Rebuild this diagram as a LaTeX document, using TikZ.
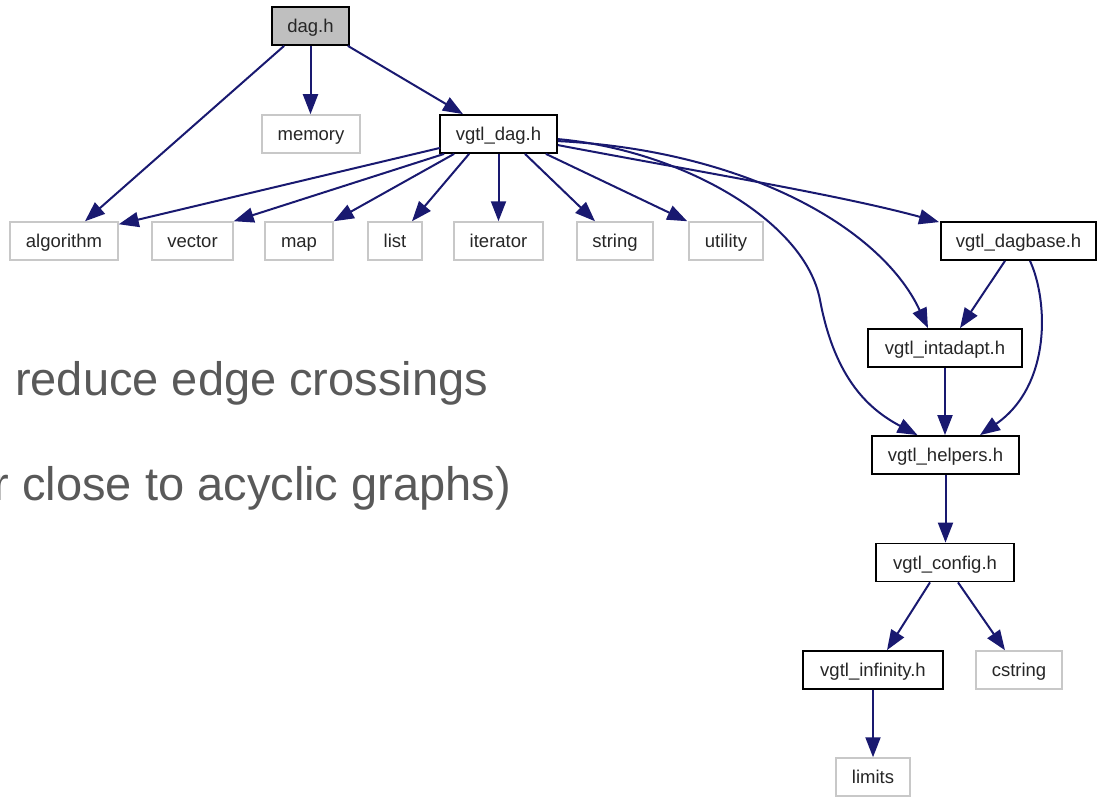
\documentclass[tikz,border=0pt]{standalone}
\usepackage{fontspec}
\setmainfont{Liberation Sans}
\usetikzlibrary{arrows.meta,calc}
\definecolor{edgeblue}{HTML}{191970}
\definecolor{rootfill}{HTML}{BFBFBF}
\definecolor{sysline}{HTML}{C8C8C8}
\definecolor{slidegray}{HTML}{595959}
\tikzset{
  box/.style={line width=1.8pt, minimum height=38pt, inner sep=0pt,
    text height=17.4pt, text depth=4.4pt,
    font=\fontsize{18.5}{20}\selectfont, text=black!85},
  projbox/.style={box, draw=black},
  sysbox/.style={box, draw=sysline, line width=1.5pt},
  rootbox/.style={projbox, fill=rootfill},
  dep/.style={draw=edgeblue, line width=2pt,
    -{Triangle[length=20pt,width=15pt]}},
  slidetext/.style={anchor=base west, inner sep=0pt, text=slidegray,
    font=\fontsize{47}{56}\selectfont}
}
\begin{document}
\begin{tikzpicture}[x=1pt,y=-1pt]
\useasboundingbox (0,0) rectangle (1098,797);

% slide text behind the graph
\node[slidetext] (t1) at (15,395) {reduce edge crossings};
\node[slidetext] (t2) at (-6.5,500) {r close to acyclic graphs)};

% include graph nodes
\node[rootbox, minimum width=77pt]  (dag)  at (310.5,26) {dag.h};
\node[sysbox,  minimum width=98pt]  (mem)  at (311,134) {memory};
\node[projbox, minimum width=117pt] (vd)   at (498.5,134) {vgtl\_dag.h};

\node[sysbox, minimum width=108pt] (alg)  at (64,241)    {algorithm};
\node[sysbox, minimum width=81pt]  (vec)  at (192.5,241) {vector};
\node[sysbox, minimum width=68pt]  (map)  at (299,241)   {map};
\node[sysbox, minimum width=54pt]  (lst)  at (395,241)   {list};
\node[sysbox, minimum width=89pt]  (itr)  at (498.5,241) {iterator};
\node[sysbox, minimum width=76pt]  (str)  at (615,241)   {string};
\node[sysbox, minimum width=74pt]  (utl)  at (726,241)   {utility};
\node[projbox, minimum width=155pt] (base) at (1018.5,241) {vgtl\_dagbase.h};

\node[projbox, minimum width=154pt] (ia)   at (945,348)   {vgtl\_intadapt.h};
\node[projbox, minimum width=147pt] (hlp)  at (945.5,455) {vgtl\_helpers.h};
\node[projbox, minimum width=138pt] (cfg)  at (945,562.5) {vgtl\_config.h};
\node[projbox, minimum width=140pt] (inf)  at (873,670)   {vgtl\_infinity.h};
\node[sysbox,  minimum width=86pt]  (cst)  at (1019,670)  {cstring};
\node[sysbox,  minimum width=74pt]  (lim)  at (873,777)   {limits};

% dag.h dependencies
\draw[dep] (dag.south) -- (dag.south |- mem.north);
\draw[dep] ($(dag.south west)+(13,0)$) -- ($(alg.north)+(21,0)$);
\draw[dep] ($(dag.south east)+(-2,0)$) -- ($(vd.north)+(-35.5,0)$);

% vgtl_dag.h dependencies
\draw[dep] ($(vd.south west)+(1,-6)$) -- ($(alg.north east)+(0,3)$);
\draw[dep] ($(vd.south west)+(5,0)$) -- (vec.north east);
\draw[dep] ($(vd.south west)+(15,0)$) -- (map.north east);
\draw[dep] ($(vd.south west)+(30,0)$) -- ($(lst.north)+(17,0)$);
\draw[dep] (vd.south) -- (itr.north);
\draw[dep] ($(vd.south)+(26.5,0)$) -- ($(str.north)+(-20,0)$);
\draw[dep] ($(vd.south east)+(-12,0)$) -- ($(utl.north west)+(-1,0)$);
\draw[dep] ($(vd.north east)+(0,31)$) .. controls (700,172) and (840,195) .. ($(base.north west)+(-1,1)$);
\draw[dep] ($(vd.north east)+(0,27)$) .. controls (740,150) and (880,225) .. ($(ia.north)+(-17,0)$);
\draw[dep] ($(vd.north east)+(0,25)$) .. controls (680,150) and (805,220) .. (820,300)
  .. controls (835,380) and (870,410) .. ($(hlp.north)+(-28,0)$);

% vgtl_dagbase.h dependencies
\draw[dep] ($(base.south)+(-13.5,0)$) -- ($(ia.north)+(15,0)$);
\draw[dep] ($(base.south)+(11.5,0)$) .. controls (1048,300) and (1052,385) .. ($(hlp.north)+(34.5,0)$);

% remaining chain
\draw[dep] (ia.south) -- (ia.south |- hlp.north);
\draw[dep] (hlp.south) -- (hlp.south |- cfg.north);
\draw[dep] ($(cfg.south)+(-15,0)$) -- ($(inf.north)+(14,0)$);
\draw[dep] ($(cfg.south)+(13,0)$) -- ($(cst.north)+(-14,0)$);
\draw[dep] (inf.south) -- (lim.north);
\end{tikzpicture}
\end{document}
